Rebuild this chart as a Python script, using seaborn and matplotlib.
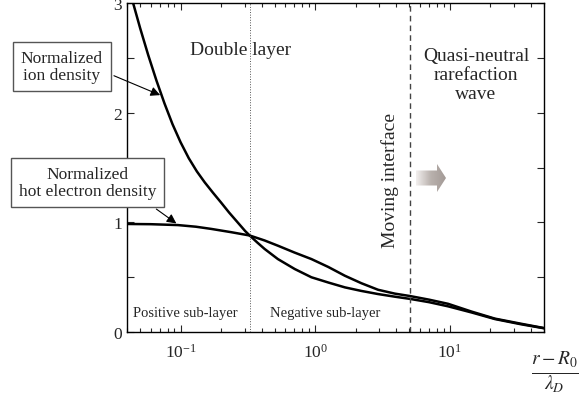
import numpy as np
import pandas as pd
import matplotlib
matplotlib.use("Agg")
import matplotlib.pyplot as plt
from matplotlib.path import Path
from matplotlib.patches import PathPatch
import seaborn as sns

# values (x is r-R0 over lambda_D)
x_ion = [0.0437, 0.0501, 0.0575, 0.0661, 0.0759, 0.0871, 0.1, 0.115, 0.132, 0.151,
         0.174, 0.2, 0.229, 0.263, 0.302, 0.326, 0.372, 0.421, 0.528, 0.705, 0.937, 1.26,
         1.66, 2.19, 2.93, 3.9, 5.05, 7.0, 9.7, 14.5, 21.6, 33.9, 50]
ion = [3.03, 2.77, 2.525, 2.295, 2.085, 1.895, 1.73, 1.585, 1.465, 1.365,
       1.27, 1.18, 1.09, 1.005, 0.92, 0.88, 0.815, 0.757, 0.665, 0.574, 0.499, 0.45,
       0.407, 0.375, 0.346, 0.322, 0.302, 0.272, 0.234, 0.178, 0.118, 0.07, 0.034]

x_el = [0.04, 0.06, 0.0955, 0.13, 0.169, 0.238, 0.326, 0.42, 0.528, 0.7, 0.937, 1.25,
        1.66, 2.2, 2.93, 3.9, 5.05, 7.0, 9.7, 14.5, 21.6, 33.9, 50]
el = [0.985, 0.983, 0.975, 0.96, 0.94, 0.91, 0.88, 0.835, 0.787, 0.725, 0.665, 0.593,
      0.513, 0.445, 0.385, 0.35, 0.328, 0.295, 0.257, 0.186, 0.122, 0.075, 0.036]

x_dotted = 0.326   # double layer split
x_dashed = 5.05    # moving interface

sns.set_style("ticks")
plt.rcParams['font.family'] = ['Liberation Serif', 'DejaVu Serif']
plt.rcParams['mathtext.fontset'] = 'stix'

fig = plt.figure(figsize=(5.82, 4.10), dpi=100)
ax = fig.add_axes([127/582, 1-333/410, 417/582, 329/410])
ax.set_xscale('log')

df_ion = pd.DataFrame({'x': x_ion, 'y': ion})
df_el = pd.DataFrame({'x': x_el, 'y': el})
sns.lineplot(data=df_ion, x='x', y='y', ax=ax, color='black', lw=1.8, sort=False)
sns.lineplot(data=df_el, x='x', y='y', ax=ax, color='black', lw=1.8, sort=False)

ax.axvline(x_dotted, color='#555555', lw=0.7, ls=':')
ax.axvline(x_dashed, color='#444444', lw=1.0, ls=(0, (4, 3)))

ax.set_xlim(0.04, 50)
ax.set_ylim(0, 3)
ax.set_yticks([0, 0.5, 1, 1.5, 2, 2.5, 3])
ax.set_yticklabels(['0', '', '1', '', '2', '', '3'])
ax.set_xlabel('')
ax.set_ylabel('')
ax.tick_params(which='both', direction='in', top=True, right=True, labelsize=12.5, width=0.8)
ax.tick_params(which='major', length=5)
ax.tick_params(which='minor', length=3)
ax.tick_params(axis='x', pad=8)
for s in ax.spines.values():
    s.set_linewidth(1.0)
    s.set_color('black')

ax.text(0.273, 0.86, 'Double layer', transform=ax.transAxes, ha='center', va='center', fontsize=14)
ax.text(0.837, 0.784, 'Quasi-neutral\nrarefaction\nwave', transform=ax.transAxes,
        ha='center', va='center', fontsize=14, linespacing=1.15)
ax.text(0.631, 0.465, 'Moving interface', transform=ax.transAxes, ha='center', va='center',
        fontsize=14, rotation=90)
ax.text(0.014, 0.06, 'Positive sub-layer', transform=ax.transAxes, ha='left', va='center', fontsize=10.5)
ax.text(0.475, 0.06, 'Negative sub-layer', transform=ax.transAxes, ha='center', va='center', fontsize=10.5)

box = dict(boxstyle='square,pad=0.45', fc='white', ec='#555555', lw=1.0)
ax.annotate('Normalized\nion density', xy=(0.0705, 2.16), xycoords='data',
            xytext=(62, 410-67.5), textcoords='figure pixels', ha='center', va='center',
            fontsize=12.5, linespacing=1.1, bbox=box, annotation_clip=False,
            arrowprops=dict(arrowstyle='-|>', color='black', lw=0.8, mutation_scale=14,
                            relpos=(1.0, 0.36), shrinkB=0))
ax.annotate('Normalized\nhot electron density', xy=(0.093, 0.99), xycoords='data',
            xytext=(87.5, 410-183.5), textcoords='figure pixels', ha='center', va='center',
            fontsize=12.5, linespacing=1.1, bbox=box, annotation_clip=False,
            arrowprops=dict(arrowstyle='-|>', color='black', lw=0.8, mutation_scale=14,
                            relpos=(0.9, 0.0), shrinkB=0))

# gradient arrow showing the motion of the interface
def px(xp, yp):
    return ((xp - 127) / 417, (333 - yp) / 329)

pts = [px(416, 171.5), px(437, 171.5), px(437, 165), px(446, 179), px(437, 193),
       px(437, 186.5), px(416, 186.5), px(416, 171.5)]
codes = [Path.MOVETO] + [Path.LINETO] * 6 + [Path.CLOSEPOLY]
arrow = PathPatch(Path(pts, codes), transform=ax.transAxes, fc='none', ec='none')
ax.add_patch(arrow)
x0, y0 = px(416, 193)
x1, y1 = px(446, 165)
grad = np.linspace(0, 1, 100).reshape(1, -1)
im = ax.imshow(grad, extent=(x0, x1, y0, y1), transform=ax.transAxes, aspect='auto',
               cmap=matplotlib.colors.LinearSegmentedColormap.from_list('g', ['#f2efee', '#b9b1ad', '#a39a96']),
               interpolation='bilinear', zorder=3)
im.set_clip_path(arrow)

fig.text(555/582, 37/410, r'$\frac{r-R_0}{\lambda_D}$', ha='center', va='center', fontsize=20)

fig.savefig('out.png', dpi=100)
